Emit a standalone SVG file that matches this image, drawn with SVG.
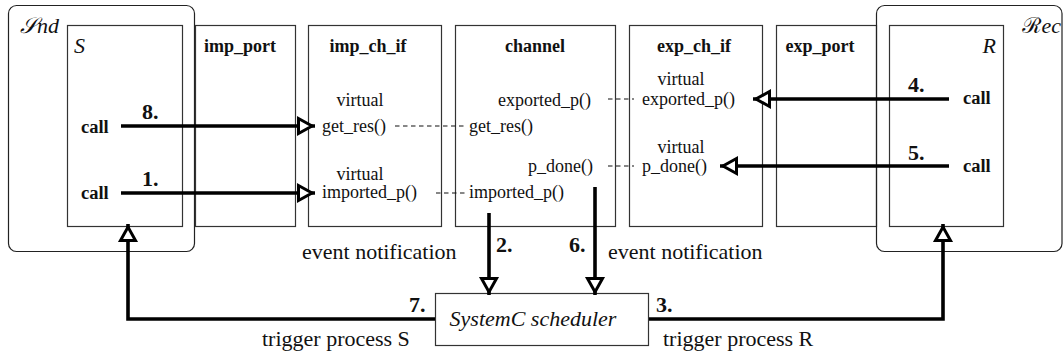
<svg xmlns="http://www.w3.org/2000/svg" width="1063" height="358" viewBox="0 0 1063 358">
<style>
text{font-family:"Liberation Serif","DejaVu Serif","Noto Serif",serif;fill:#111}
.box{fill:#fff;stroke:#333;stroke-width:1.2}
.rbox{fill:none;stroke:#222;stroke-width:1.2}
.h{font-weight:bold;font-size:18px}
.call{font-weight:bold;font-size:18.5px}
.num{font-weight:bold;font-size:22px}
.m{font-size:18px}
.o{font-size:22px}
.it{font-style:italic}
.arr{fill:none;stroke:#000;stroke-width:3.6;marker-end:url(#ah)}
.dash{fill:none;stroke:#111;stroke-width:1.2;stroke-dasharray:4.5 3.5}
</style>
<defs>
<marker id="ah" markerUnits="userSpaceOnUse" viewBox="0 0 22 20" markerWidth="22" markerHeight="20" refX="19" refY="10" orient="auto" overflow="visible">
<path d="M2.5,2.5 L16,10 L2.5,17.5 Z" fill="#fff" stroke="#000" stroke-width="3"/>
</marker>
</defs>
<g id="Snd">
<rect class="rbox" x="8.5" y="5.5" width="186" height="246" rx="8"/>
<text x="20" y="33" font-size="22" class="it">𝒮nd</text>
</g>
<g id="S">
<rect class="box" x="67.5" y="25.5" width="115" height="201"/>
<text x="74" y="53" font-size="22" class="it">S</text>
<text x="81" y="133" class="call">call</text>
<text x="81" y="199" class="call">call</text>
</g>
<g id="imp_port">
<rect class="box" x="195.5" y="25.5" width="100" height="201"/>
<text x="240" y="52" class="h" text-anchor="middle">imp_port</text>
</g>
<g id="imp_ch_if">
<rect class="box" x="308.5" y="25.5" width="133" height="201"/>
<text x="368" y="52" class="h" text-anchor="middle">imp_ch_if</text>
<text x="360" y="106" class="m" text-anchor="middle">virtual</text>
<text x="322" y="132" class="m">get_res()</text>
<text x="360" y="180" class="m" text-anchor="middle">virtual</text>
<text x="322" y="198" class="m">imported_p()</text>
</g>
<g id="channel">
<rect class="box" x="455.5" y="25.5" width="160" height="201"/>
<text x="535" y="52" class="h" text-anchor="middle">channel</text>
<text x="591" y="106" class="m" text-anchor="end">exported_p()</text>
<text x="469" y="132" class="m">get_res()</text>
<text x="593" y="172" class="m" text-anchor="end">p_done()</text>
<text x="469" y="198" class="m">imported_p()</text>
</g>
<g id="exp_ch_if">
<rect class="box" x="629.5" y="25.5" width="133" height="201"/>
<text x="694" y="52" class="h" text-anchor="middle">exp_ch_if</text>
<text x="681" y="85" class="m" text-anchor="middle">virtual</text>
<text x="642" y="105" class="m">exported_p()</text>
<text x="681" y="153" class="m" text-anchor="middle">virtual</text>
<text x="642" y="172" class="m">p_done()</text>
</g>
<g id="exp_port">
<rect class="box" x="776.5" y="25.5" width="100" height="201"/>
<text x="820" y="52" class="h" text-anchor="middle">exp_port</text>
</g>
<g id="Rec">
<rect class="rbox" x="876.5" y="5.5" width="185.5" height="246" rx="8"/>
<text x="1061" y="33" font-size="22" class="it" text-anchor="end">ℛec</text>
</g>
<g id="R">
<rect class="box" x="889.5" y="25.5" width="114" height="201"/>
<text x="996" y="53" font-size="22" class="it" text-anchor="end">R</text>
<text x="963" y="104" class="call">call</text>
<text x="963" y="172" class="call">call</text>
</g>
<g id="scheduler">
<rect class="box" x="435.5" y="293.5" width="213" height="52"/>
<text x="533" y="326" class="o it" text-anchor="middle">SystemC scheduler</text>
</g>
<g id="connectors">
<path class="dash" d="M395,126 H466"/>
<path class="dash" d="M436,193 H466"/>
<path class="dash" d="M608,99 H634"/>
<path class="dash" d="M608,166 H634"/>
<path class="arr" d="M121,126 H315"/>
<path class="arr" d="M121,193 H315"/>
<path class="arr" d="M949,99 H753"/>
<path class="arr" d="M949,166 H720"/>
<path class="arr" d="M489,213 V295"/>
<path class="arr" d="M595,187 V295"/>
<path class="arr" d="M435,319 H128 V224"/>
<path class="arr" d="M649,319 H943 V224"/>
<text x="142" y="119" class="num">8.</text>
<text x="142" y="186" class="num">1.</text>
<text x="908" y="92" class="num">4.</text>
<text x="908" y="160" class="num">5.</text>
<text x="496" y="252" class="num">2.</text>
<text x="569" y="252" class="num">6.</text>
<text x="409" y="312" class="num">7.</text>
<text x="656" y="312" class="num">3.</text>
<text x="302" y="259" class="o">event notification</text>
<text x="608" y="259" class="o">event notification</text>
<text x="262" y="346" class="o">trigger process S</text>
<text x="663" y="346" class="o">trigger process R</text>
</g>
</svg>
